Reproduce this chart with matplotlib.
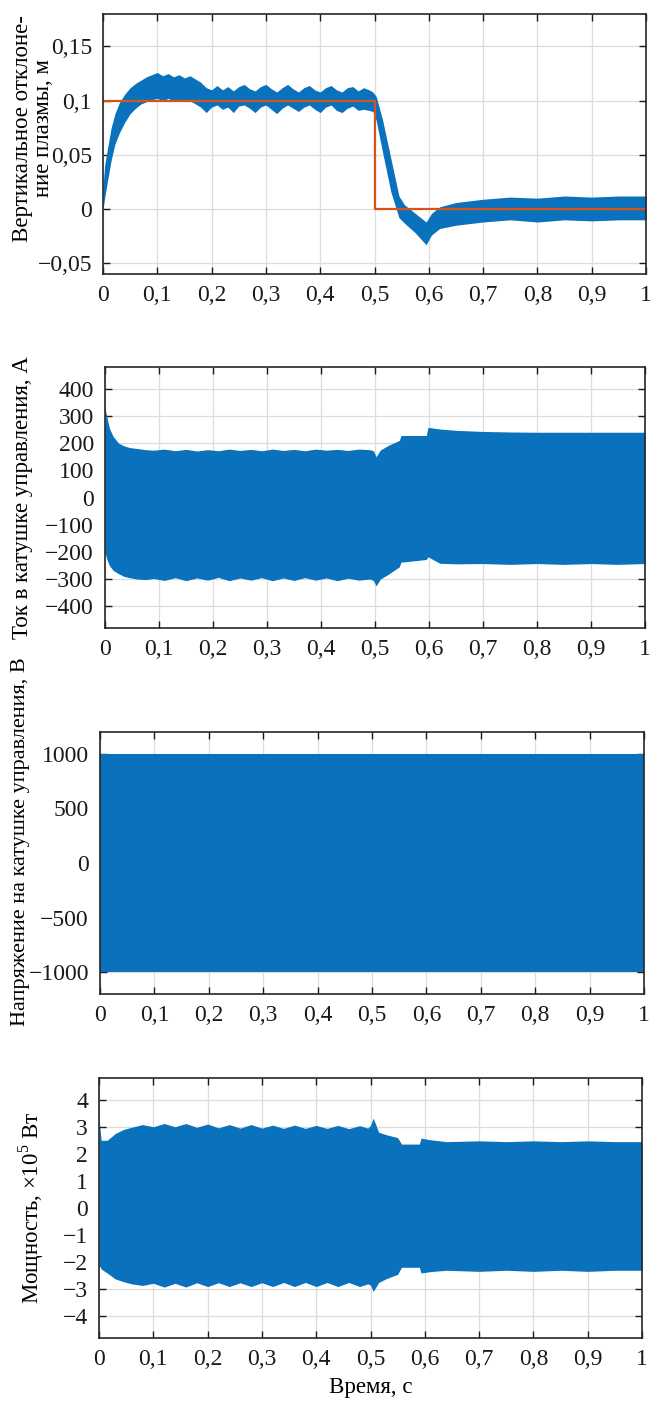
import numpy as np
import matplotlib
matplotlib.use("Agg")
import matplotlib.pyplot as plt

plt.rcParams['font.family'] = ['Liberation Serif', 'DejaVu Serif']
plt.rcParams['mathtext.fontset'] = 'custom'
plt.rcParams['mathtext.rm'] = 'Liberation Serif'
plt.rcParams['axes.unicode_minus'] = True

BLUE = '#0a72bd'
RED = '#d95319'

# time axis ticks
x_ticks = [0, 0.1, 0.2, 0.3, 0.4, 0.5, 0.6, 0.7, 0.8, 0.9, 1.0]
x_ticklabels = ['0', '0,1', '0,2', '0,3', '0,4', '0,5', '0,6', '0,7', '0,8', '0,9', '1']

# --- vertical plasma displacement, m (envelope of fast oscillation) ---
t1 = [0.000, 0.003, 0.008, 0.015, 0.022, 0.030, 0.040, 0.050, 0.060, 0.070,
      0.080, 0.090, 0.100, 0.110, 0.120, 0.130, 0.140, 0.150, 0.160, 0.170,
      0.180, 0.190, 0.200, 0.210, 0.220, 0.230, 0.240, 0.250, 0.260, 0.270,
      0.280, 0.290, 0.300, 0.310, 0.320, 0.330, 0.340, 0.350, 0.360, 0.370,
      0.380, 0.390, 0.400, 0.410, 0.420, 0.430, 0.440, 0.450, 0.460, 0.470,
      0.480, 0.490, 0.497, 0.503, 0.515, 0.530, 0.545, 0.555, 0.575, 0.595,
      0.605, 0.620, 0.650, 0.700, 0.750, 0.800, 0.850, 0.900, 0.950, 1.000]
z_hi = [0.020, 0.040, 0.055, 0.075, 0.088, 0.098, 0.106, 0.112, 0.116, 0.119,
        0.122, 0.124, 0.126, 0.123, 0.125, 0.122, 0.124, 0.121, 0.123, 0.120,
        0.117, 0.112, 0.110, 0.114, 0.110, 0.113, 0.109, 0.113, 0.115, 0.111,
        0.109, 0.113, 0.115, 0.111, 0.108, 0.112, 0.115, 0.111, 0.108, 0.112,
        0.114, 0.110, 0.108, 0.112, 0.114, 0.110, 0.108, 0.112, 0.113, 0.109,
        0.112, 0.110, 0.108, 0.104, 0.082, 0.047, 0.012, 0.004, -0.004, -0.012,
        -0.004, 0.002, 0.006, 0.009, 0.011, 0.010, 0.012, 0.011, 0.012, 0.012]
z_lo = [0.000, 0.010, 0.025, 0.045, 0.060, 0.070, 0.080, 0.088, 0.093, 0.097,
        0.099, 0.101, 0.102, 0.100, 0.102, 0.100, 0.101, 0.099, 0.100, 0.097,
        0.094, 0.089, 0.094, 0.096, 0.092, 0.094, 0.089, 0.095, 0.096, 0.093,
        0.089, 0.094, 0.096, 0.092, 0.088, 0.093, 0.096, 0.093, 0.090, 0.094,
        0.096, 0.092, 0.089, 0.094, 0.096, 0.091, 0.089, 0.093, 0.095, 0.091,
        0.092, 0.091, 0.090, 0.082, 0.052, 0.016, -0.008, -0.013, -0.022, -0.033,
        -0.024, -0.018, -0.015, -0.012, -0.010, -0.012, -0.010, -0.011, -0.010, -0.010]
# reference (setpoint)
ref_t = [0.0, 0.5, 0.5, 1.0]
ref_z = [0.1, 0.1, 0.0, 0.0]

# --- control coil current, A ---
t2 = [0.000, 0.003, 0.008, 0.015, 0.025, 0.035, 0.045, 0.060, 0.075, 0.090,
      0.110, 0.130, 0.150, 0.170, 0.190, 0.210, 0.230, 0.250, 0.270, 0.290,
      0.310, 0.330, 0.350, 0.370, 0.390, 0.410, 0.430, 0.450, 0.470, 0.490,
      0.497, 0.502, 0.510, 0.525, 0.545, 0.548, 0.595, 0.598, 0.620, 0.650,
      0.700, 0.750, 0.800, 0.850, 0.900, 0.950, 1.000]
i_hi = [330, 300, 255, 225, 200, 190, 184, 180, 176, 174,
        178, 172, 177, 171, 176, 172, 178, 173, 177, 172,
        178, 173, 177, 172, 178, 174, 177, 173, 178, 176,
        172, 150, 175, 192, 210, 228, 228, 258, 252, 247,
        243, 241, 240, 240, 240, 240, 240]
i_lo = [-200, -225, -250, -268, -280, -290, -295, -300, -302, -298,
        -305, -295, -306, -296, -304, -294, -306, -296, -304, -295,
        -306, -296, -305, -295, -304, -296, -306, -297, -304, -300,
        -305, -325, -300, -282, -255, -238, -228, -218, -242, -244,
        -243, -246, -243, -246, -243, -246, -243]

# --- control coil voltage, V ---
t3 = [0.0, 1.0]
u_hi = [1000, 1000]
u_lo = [-1000, -1000]

# --- power, x1e5 W ---
t4 = [0.000, 0.004, 0.015, 0.030, 0.045, 0.060, 0.080,
      0.100, 0.120, 0.140, 0.160, 0.180, 0.200, 0.220, 0.240, 0.260, 0.280,
      0.300, 0.320, 0.340, 0.360, 0.380, 0.400, 0.420, 0.440, 0.460, 0.480,
      0.495, 0.500, 0.505, 0.515, 0.530, 0.550, 0.557, 0.590, 0.593, 0.610,
      0.640, 0.700, 0.750, 0.800, 0.850, 0.900, 0.950, 1.000]
p_hi = [3.30, 2.50, 2.50, 2.75, 2.90, 2.98, 3.08,
        3.00, 3.12, 3.00, 3.12, 2.98, 3.10, 2.96, 3.08, 2.95, 3.08,
        2.95, 3.06, 2.94, 3.06, 2.94, 3.05, 2.94, 3.05, 2.93, 3.04,
        2.95, 3.05, 3.32, 2.80, 2.70, 2.60, 2.36, 2.36, 2.58, 2.52,
        2.45, 2.48, 2.45, 2.48, 2.45, 2.48, 2.45, 2.45]
p_lo = [-2.10, -2.25, -2.40, -2.62, -2.72, -2.80, -2.86,
        -2.78, -2.92, -2.78, -2.92, -2.76, -2.90, -2.76, -2.90, -2.76, -2.90,
        -2.76, -2.90, -2.75, -2.90, -2.75, -2.90, -2.75, -2.90, -2.75, -2.90,
        -2.80, -2.85, -3.08, -2.75, -2.60, -2.45, -2.19, -2.19, -2.40, -2.35,
        -2.30, -2.34, -2.30, -2.34, -2.30, -2.34, -2.30, -2.30]

W, H = 651, 1401
fig = plt.figure(figsize=(W / 100, H / 100), dpi=100)


def add_ax(left, right, top, bottom):
    return fig.add_axes([left / W, 1 - bottom / H, (right - left) / W, (bottom - top) / H])


def style(ax, ylim, yticks, yticklabels, ylabel, label_x, label_y=0.5, label_size=16.5):
    ax.set_xlim(0, 1)
    ax.set_ylim(*ylim)
    ax.set_xticks(x_ticks)
    ax.set_xticklabels(x_ticklabels)
    ax.set_yticks(yticks)
    ax.set_yticklabels(yticklabels)
    ax.set_axisbelow(True)
    ax.grid(True, color='#dcdcdc', linewidth=0.9)
    ax.tick_params(direction='in', top=True, right=True, length=5, width=1,
                   labelsize=17, pad=8, colors='#1a1a1a')
    for s in ax.spines.values():
        s.set_linewidth(1.2)
        s.set_color('#262626')
    ax.set_ylabel(ylabel, fontsize=label_size, va='center', linespacing=1.0)
    ax.yaxis.set_label_coords(label_x, label_y)


ax1 = add_ax(103, 646, 14, 274)
ax1.fill_between(t1, z_lo, z_hi, color=BLUE, linewidth=0)
ax1.plot(ref_t, ref_z, color=RED, linewidth=1.6)
style(ax1, (-0.06, 0.18), [-0.05, 0, 0.05, 0.1, 0.15],
      ['\u22120,05', '0', '0,05', '0,1', '0,15'],
      'Вертикальное отклоне-\nние плазмы, м', -0.129, 0.56)

ax2 = add_ax(105, 645, 367, 628)
ax2.fill_between(t2, i_lo, i_hi, color=BLUE, linewidth=0)
style(ax2, (-480, 480), [-400, -300, -200, -100, 0, 100, 200, 300, 400],
      ['\u2212400', '\u2212300', '\u2212200', '\u2212100', '0', '100', '200', '300', '400'],
      'Ток в катушке управления, А', -0.153)

ax3 = add_ax(100, 644, 732, 994)
ax3.fill_between(t3, u_lo, u_hi, color=BLUE, linewidth=0)
style(ax3, (-1200, 1200), [-1000, -500, 0, 500, 1000],
      ['\u22121000', '\u2212500', '0', '500', '1000'],
      'Напряжение на катушке управления, В', -0.147, 0.58, 16)

ax4 = add_ax(99, 642, 1078, 1338)
ax4.fill_between(t4, p_lo, p_hi, color=BLUE, linewidth=0)
style(ax4, (-4.8, 4.8), [-4, -3, -2, -1, 0, 1, 2, 3, 4],
      ['\u22124', '\u22123', '\u22122', '\u22121', '0', '1', '2', '3', '4'],
      'Мощность, ×10$^{5}$ Вт', -0.125)
ax4.set_xlabel('Время, с', fontsize=16.5, va='center')
ax4.xaxis.set_label_coords(0.5, -0.19)

fig.savefig('out.png', dpi=100)
